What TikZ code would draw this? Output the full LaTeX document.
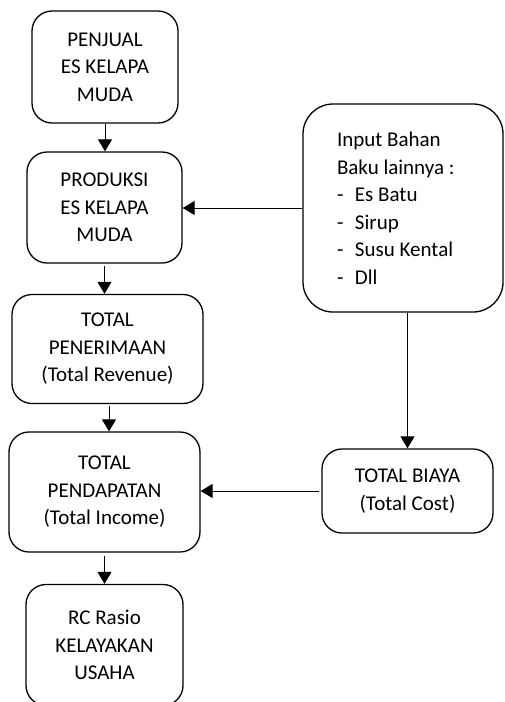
\documentclass[tikz,border=0pt]{standalone}
\usepackage{fontspec}
\setmainfont{Carlito}
\usetikzlibrary{arrows.meta}

\begin{document}
\begin{tikzpicture}[
        x=1pt, y=-1pt,
        box/.style={draw=black, line width=1.3pt, rounded corners=20pt, align=center,
            font=\fontsize{21}{27.5}\selectfont, inner sep=0pt},
        arrow/.style={line width=1pt, -{Triangle[length=12pt,width=14pt]}}
    ]
    \useasboundingbox (0,0) rectangle (504,702);

    % left column
    \node[box, minimum width=146pt, minimum height=112pt] (penjual) at (105,67)
    {PENJUAL\\ES KELAPA\\MUDA};
    \node[box, minimum width=155pt, minimum height=111pt] (produksi) at (104.5,207.5)
    {PRODUKSI\\ES KELAPA\\MUDA};
    \node[box, minimum width=191pt, minimum height=109pt] (penerimaan) at (107.5,349)
    {TOTAL\\PENERIMAAN\\(Total Revenue)};
    \node[box, minimum width=191pt, minimum height=120pt] (pendapatan) at (104.5,492)
    {TOTAL\\PENDAPATAN\\(Total Income)};
    \node[box, minimum width=157pt, minimum height=121pt] (rasio) at (104.5,645)
    {RC Rasio\\KELAYAKAN\\USAHA};

    % right column
    \node[box, rounded corners=30pt, minimum width=200pt, minimum height=208pt,
        text width=132pt, inner xsep=34pt, align=flush left] (input) at (403,208)
    {Input Bahan\\Baku lainnya :\\
     \makebox[18pt][l]{-}Es Batu\\
     \makebox[18pt][l]{-}Sirup\\
     \makebox[18pt][l]{-}Susu Kental\\
     \makebox[18pt][l]{-}Dll};
    \node[box, minimum width=171pt, minimum height=84pt] (biaya) at (407.5,491)
    {TOTAL BIAYA\\(Total Cost)};

    % connectors
    \draw[arrow] (penjual.south) -- (penjual.south |- produksi.north);
    \draw[arrow] ([yshift=-2pt]produksi.south) -- (produksi.south |- penerimaan.north);
    \draw[arrow] ([xshift=1.5pt,yshift=-2pt]penerimaan.south) -- ([xshift=1.5pt]penerimaan.south |- pendapatan.north);
    \draw[arrow] ([yshift=-3pt]pendapatan.south) -- (pendapatan.south |- rasio.north);
    \draw[arrow] (input.west) -- (input.west -| produksi.east);
    \draw[arrow] (input.south -| biaya.north) -- (biaya.north);
    \draw[arrow] ([xshift=-2pt]biaya.west) -- (biaya.west -| pendapatan.east);
\end{tikzpicture}
\end{document}
